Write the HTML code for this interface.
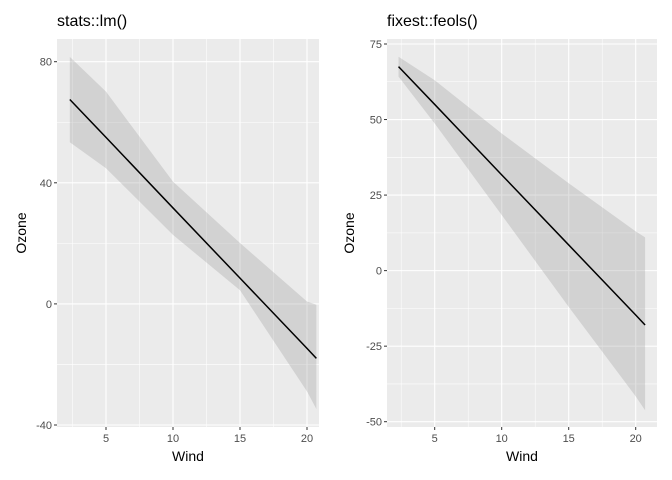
<!DOCTYPE html>
<html><head><meta charset="utf-8"><style>
body{margin:0;background:#fff;font-family:"Liberation Sans",sans-serif}
svg{display:block}
</style></head><body>
<svg id="chart" width="672" height="480"></svg>
<script>
const wind=[2.3,5,10,15,20,20.7];
const lmFit=[67.5,55,31.7,8.5,-14.7,-18];
const lmUpper=[81.6,70.1,40.4,20.1,0.8,-0.3];
const lmLower=[53.4,44.8,22.8,4.5,-28.9,-34.7];
const feFit=[67.5,55,31.7,8.5,-14.7,-18];
const feUpper=[70.8,63,45.4,28.9,13,11];
const feLower=[64.2,48.7,18.4,-12,-41.6,-46.2];
const xTicks=[5,10,15,20];
const lmYTicks=[80,40,0,-40];
const feYTicks=[75,50,25,0,-25,-50];
const titles=["stats::lm()","fixest::feols()"];

const NS="http://www.w3.org/2000/svg";
const svg=document.getElementById('chart');
function mk(tag,attrs,parent){const e=document.createElementNS(NS,tag);for(const k in attrs)e.setAttribute(k,attrs[k]);(parent||svg).appendChild(e);return e;}

function panel(cfg){
  const g=mk('g',{});
  
  
  const sx=v=>cfg.x0+(v-5)*(cfg.x20-cfg.x0)/15;
  const sy=v=>cfg.yA+(v-cfg.vA)*(cfg.yB-cfg.yA)/(cfg.vB-cfg.vA);
  const bg=mk('rect',{x:cfg.L,y:cfg.T,width:cfg.R-cfg.L,height:cfg.B-cfg.T,fill:'#ebebeb'},g);
  
  
  const yt=cfg.yticks, step=yt[0]-yt[1];
  for(let i=0;i<yt.length-1;i++){const v=yt[i]-step/2;mk('line',{x1:cfg.L,x2:cfg.R,y1:sy(v),y2:sy(v),stroke:'#fff','stroke-width':0.55},g);}
  [yt[0]+step/2,yt[yt.length-1]-step/2].forEach(v=>{const y=sy(v);if(y>cfg.T&&y<cfg.B)mk('line',{x1:cfg.L,x2:cfg.R,y1:y,y2:y,stroke:'#fff','stroke-width':0.55},g);});
  [2.5,7.5,12.5,17.5].forEach(v=>mk('line',{x1:sx(v),x2:sx(v),y1:cfg.T,y2:cfg.B,stroke:'#fff','stroke-width':0.55},g));
  yt.forEach(v=>{const y=sy(v);
    mk('line',{x1:cfg.L,x2:cfg.R,y1:y,y2:y,stroke:'#fff','stroke-width':1.1},g);
    mk('line',{x1:cfg.L-3,x2:cfg.L,y1:y,y2:y,stroke:'#333','stroke-width':1},g);
    const t=mk('text',{x:cfg.L-5,y:y+4,'text-anchor':'end','font-size':11,fill:'#4d4d4d'},g);t.textContent=v;
    
    });
  xTicks.forEach(v=>{const x=sx(v);
    mk('line',{x1:x,x2:x,y1:cfg.T,y2:cfg.B,stroke:'#fff','stroke-width':1.1},g);
    mk('line',{x1:x,x2:x,y1:cfg.B,y2:cfg.B+3,stroke:'#333','stroke-width':1},g);
    const t=mk('text',{x:x,y:cfg.B+15,'text-anchor':'middle','font-size':11,fill:'#4d4d4d'},g);t.textContent=v;
    
    });
  let pts=wind.map((w,i)=>sx(w)+','+sy(cfg.up[i]));
  for(let i=wind.length-1;i>=0;i--)pts.push(sx(wind[i])+','+sy(cfg.lo[i]));
  const rb=mk('polygon',{points:pts.join(' '),fill:'#999','fill-opacity':0.3},g);
  
  
  const ln=mk('polyline',{points:wind.map((w,i)=>sx(w)+','+sy(cfg.fit[i])).join(' '),fill:'none',stroke:'#000','stroke-width':1.5},g);
  
  
  const ti=mk('text',{x:cfg.L,y:26,'font-size':16,fill:'#000'},g);ti.textContent=cfg.title;
  
  
  const xl=mk('text',{x:(cfg.L+cfg.R)/2,y:461,'text-anchor':'middle','font-size':14,fill:'#000'},g);xl.textContent='Wind';
  
  
  const cy=(cfg.T+cfg.B)/2;
  const yl=mk('text',{x:cfg.L-cfg.ylOff,y:cy,'text-anchor':'middle','font-size':14,fill:'#000',transform:`rotate(-90 ${cfg.L-cfg.ylOff} ${cy})`},g);yl.textContent='Ozone';
  
  
}
panel({name:'lm-panel',L:57,R:319,T:39,B:427,x0:106,x20:307,vA:80,yA:61.7,vB:-40,yB:425,yticks:lmYTicks,fit:lmFit,up:lmUpper,lo:lmLower,title:titles[0],ylOff:31});
panel({name:'feols-panel',L:387,R:657,T:39,B:427,x0:434.7,x20:635.7,vA:75,yA:44,vB:-50,yB:421.7,yticks:feYTicks,fit:feFit,up:feUpper,lo:feLower,title:titles[1],ylOff:33});
</script>
</body></html>
